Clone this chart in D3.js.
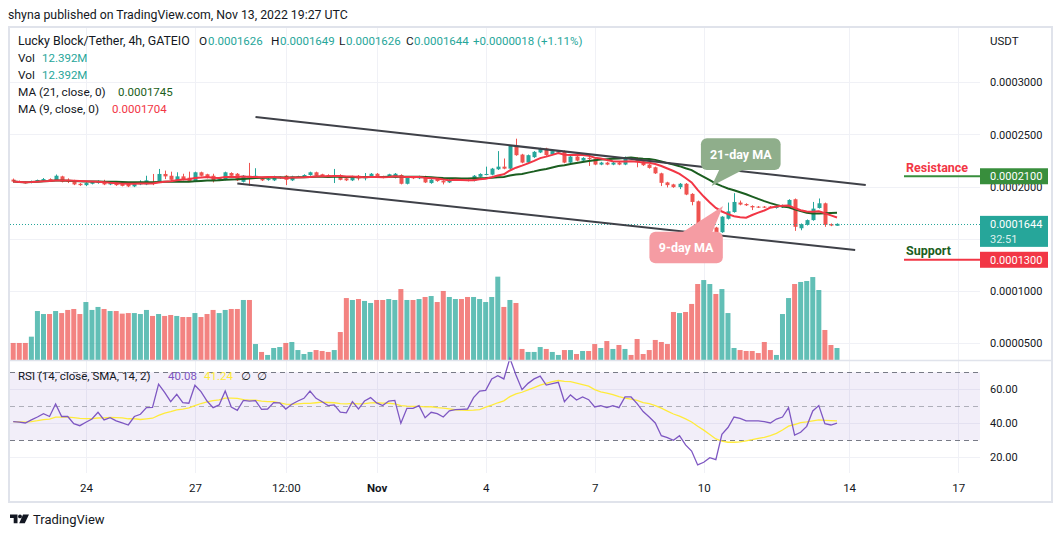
<!DOCTYPE html>
<html><head><meta charset="utf-8">
<script src="https://cdn.jsdelivr.net/npm/d3@7"></script>
<style>
html,body{margin:0;padding:0;background:#fff;}
svg{display:block;font-family:Roboto,"Noto Sans","DejaVu Sans",sans-serif;}
</style></head><body>
<svg id="c" width="1062" height="537"></svg>
<script>
// ---------- DATA ----------
const barStart = Date.UTC(2022, 9, 22, 0);   // first 4h bar (UTC)
const barHours = 4;
const open = [2068e-7,2049e-7,2041e-7,2038e-7,2052e-7,2059e-7,2073e-7,2061e-7,2099e-7,2066e-7,
2061e-7,2028e-7,2015e-7,2028e-7,2035e-7,2054e-7,2022e-7,2041e-7,2028e-7,2028e-7,
2003e-7,2022e-7,2022e-7,2041e-7,2041e-7,2122e-7,2105e-7,2061e-7,2099e-7,2086e-7,
2054e-7,2138e-7,2119e-7,2105e-7,2061e-7,2066e-7,2131e-7,2124e-7,2047e-7,2105e-7,
2090e-7,2080e-7,2064e-7,2061e-7,2083e-7,2105e-7,2061e-7,2093e-7,2093e-7,2112e-7,
2138e-7,2119e-7,2112e-7,2099e-7,2112e-7,2080e-7,2061e-7,2105e-7,2080e-7,2099e-7,
2124e-7,2099e-7,2093e-7,2086e-7,2112e-7,2028e-7,2093e-7,2080e-7,2099e-7,2035e-7,
2080e-7,2054e-7,2041e-7,2064e-7,2066e-7,2064e-7,2057e-7,2095e-7,2115e-7,2115e-7,
2167e-7,2192e-7,2173e-7,2386e-7,2308e-7,2231e-7,2283e-7,2328e-7,2366e-7,2308e-7,
2328e-7,2341e-7,2231e-7,2289e-7,2250e-7,2276e-7,2270e-7,2212e-7,2231e-7,2212e-7,
2231e-7,2212e-7,2276e-7,2276e-7,2244e-7,2212e-7,2186e-7,2128e-7,2041e-7,2022e-7,
1996e-7,2028e-7,1931e-7,1860e-7,1570e-7,1577e-7,1609e-7,1564e-7,1693e-7,1757e-7,
1848e-7,1834e-7,1815e-7,1809e-7,1809e-7,1809e-7,1796e-7,1802e-7,1809e-7,1880e-7,
1602e-7,1635e-7,1680e-7,1796e-7,1841e-7,1641e-7,1626e-7];
const high = [2078e-7,2059e-7,2049e-7,2059e-7,2068e-7,2083e-7,2080e-7,2117e-7,2105e-7,2080e-7,
2066e-7,2035e-7,2041e-7,2054e-7,2061e-7,2066e-7,2054e-7,2047e-7,2035e-7,2035e-7,
2035e-7,2061e-7,2105e-7,2122e-7,2170e-7,2154e-7,2144e-7,2138e-7,2124e-7,2144e-7,
2144e-7,2144e-7,2124e-7,2124e-7,2093e-7,2144e-7,2138e-7,2131e-7,2112e-7,2228e-7,
2177e-7,2086e-7,2080e-7,2105e-7,2099e-7,2112e-7,2105e-7,2105e-7,2119e-7,2144e-7,
2144e-7,2124e-7,2119e-7,2170e-7,2119e-7,2086e-7,2105e-7,2112e-7,2131e-7,2131e-7,
2131e-7,2105e-7,2124e-7,2131e-7,2119e-7,2093e-7,2099e-7,2105e-7,2105e-7,2073e-7,
2086e-7,2061e-7,2073e-7,2073e-7,2073e-7,2070e-7,2112e-7,2128e-7,2192e-7,2180e-7,
2341e-7,2270e-7,2399e-7,2460e-7,2315e-7,2308e-7,2341e-7,2373e-7,2373e-7,2347e-7,
2347e-7,2347e-7,2296e-7,2296e-7,2283e-7,2283e-7,2276e-7,2238e-7,2238e-7,2238e-7,
2238e-7,2289e-7,2283e-7,2283e-7,2250e-7,2218e-7,2192e-7,2134e-7,2047e-7,2028e-7,
2035e-7,2035e-7,1938e-7,1867e-7,1628e-7,1667e-7,1616e-7,1718e-7,1848e-7,1938e-7,
1867e-7,1841e-7,1822e-7,1815e-7,1815e-7,1815e-7,1822e-7,1829e-7,1880e-7,1887e-7,
1648e-7,1686e-7,1854e-7,1887e-7,1848e-7,1648e-7,1649e-7];
const low = [2039e-7,2035e-7,2030e-7,2032e-7,2044e-7,2054e-7,2054e-7,2054e-7,2041e-7,2035e-7,
2015e-7,2008e-7,2006e-7,2022e-7,2028e-7,2015e-7,2015e-7,2008e-7,2003e-7,1996e-7,
1996e-7,2015e-7,2015e-7,2015e-7,2035e-7,2073e-7,2047e-7,2054e-7,2061e-7,2047e-7,
2047e-7,2099e-7,2080e-7,2041e-7,2054e-7,2061e-7,2099e-7,2054e-7,2041e-7,2008e-7,
2083e-7,2054e-7,2057e-7,2054e-7,2076e-7,2015e-7,2054e-7,2086e-7,2086e-7,2105e-7,
2099e-7,2093e-7,2086e-7,2035e-7,2061e-7,2054e-7,2054e-7,2061e-7,2061e-7,2093e-7,
2093e-7,2080e-7,2086e-7,2080e-7,2022e-7,2022e-7,2073e-7,2073e-7,2035e-7,2028e-7,
2047e-7,2022e-7,2035e-7,2057e-7,2054e-7,2051e-7,2051e-7,2090e-7,2109e-7,2109e-7,
2160e-7,2167e-7,2167e-7,2296e-7,2225e-7,2225e-7,2276e-7,2322e-7,2296e-7,2302e-7,
2322e-7,2225e-7,2225e-7,2244e-7,2244e-7,2199e-7,2206e-7,2206e-7,2206e-7,2206e-7,
2206e-7,2206e-7,2264e-7,2186e-7,2199e-7,2173e-7,2122e-7,2006e-7,1993e-7,1989e-7,
1977e-7,1919e-7,1822e-7,1564e-7,1564e-7,1570e-7,1558e-7,1558e-7,1686e-7,1751e-7,
1822e-7,1815e-7,1776e-7,1796e-7,1796e-7,1800e-7,1790e-7,1796e-7,1802e-7,1577e-7,
1583e-7,1628e-7,1674e-7,1790e-7,1616e-7,1622e-7,1626e-7];
const close = [2049e-7,2041e-7,2036e-7,2052e-7,2064e-7,2073e-7,2064e-7,2105e-7,2047e-7,2047e-7,
2022e-7,2015e-7,2035e-7,2047e-7,2054e-7,2022e-7,2047e-7,2015e-7,2008e-7,2003e-7,
2028e-7,2047e-7,2061e-7,2036e-7,2122e-7,2099e-7,2066e-7,2099e-7,2066e-7,2054e-7,
2138e-7,2105e-7,2086e-7,2054e-7,2086e-7,2138e-7,2105e-7,2061e-7,2105e-7,2093e-7,
2105e-7,2061e-7,2073e-7,2099e-7,2093e-7,2066e-7,2099e-7,2099e-7,2112e-7,2138e-7,
2105e-7,2099e-7,2093e-7,2105e-7,2066e-7,2061e-7,2099e-7,2080e-7,2099e-7,2124e-7,
2099e-7,2086e-7,2119e-7,2124e-7,2028e-7,2086e-7,2080e-7,2099e-7,2041e-7,2066e-7,
2054e-7,2041e-7,2066e-7,2066e-7,2061e-7,2057e-7,2105e-7,2122e-7,2122e-7,2173e-7,
2192e-7,2173e-7,2392e-7,2302e-7,2231e-7,2302e-7,2334e-7,2366e-7,2302e-7,2341e-7,
2341e-7,2231e-7,2289e-7,2250e-7,2276e-7,2264e-7,2212e-7,2231e-7,2212e-7,2231e-7,
2212e-7,2283e-7,2270e-7,2238e-7,2206e-7,2180e-7,2128e-7,2037e-7,2015e-7,1996e-7,
2028e-7,1925e-7,1854e-7,1570e-7,1597e-7,1616e-7,1564e-7,1713e-7,1764e-7,1854e-7,
1829e-7,1822e-7,1802e-7,1802e-7,1802e-7,1804e-7,1815e-7,1822e-7,1873e-7,1616e-7,
1641e-7,1680e-7,1790e-7,1841e-7,1635e-7,1628e-7,1644e-7];
// volume in millions
const volume = [17.6,17.6,17.6,24.1,50.6,47.5,47.5,50.6,48.5,51.7,
52.7,47.5,59.9,51.7,54.8,52.7,50.6,50.6,47.9,48.5,
48.5,47.5,51.7,45.5,47.5,45.5,46.5,45.5,44.4,44.4,
48.5,44.4,47.5,51.7,48.5,51.7,52.7,52.7,62,62,
16.5,8.3,5.2,12.4,13.4,17.6,18.6,10.3,6.2,8.3,
10.3,9.3,8.3,10.3,28.9,64,62,63,61,58.9,
62,62,63,62,73.3,62,62,63,65.1,66.1,
59.9,71.3,65.1,63,63,65.1,65.1,63,59.9,65.1,
86.1,54.8,62,58.9,11.4,8.3,8.3,13.4,11.4,8.3,
5.2,10.3,10.3,6.2,9.3,9.3,16.5,12.4,19.6,11.4,
15.5,11.4,5.2,21.7,6.2,10.3,20.7,18.6,16.5,49.6,
48.5,49.6,57.9,78.5,82.6,78.5,68.2,73.3,48.5,12.4,
10.3,9.3,9.3,7.2,18.6,10.3,5.2,47.5,64,78.5,
80.6,81.6,85.7,72.3,31,15.5,12.392];
const rsi = [41,40.7,40.2,42,43.7,45.7,44,51.4,44,44,
39.8,38.6,40.6,42.5,46.5,42,43.3,41.4,40.2,39,
44,45.3,49.2,49.4,63,58.2,52.7,57,52.2,51.8,
62.4,58.6,53.1,49.2,50.8,59,49.6,47.6,53.5,53.1,
53.3,48.2,48.4,52.2,52,48.4,51.2,53.1,54.7,59,
54.7,52.7,50.4,50.8,46.5,46.1,52.7,48.4,53.1,55.1,
52,50.4,53.1,53.5,40,48.8,48.8,50.4,43.3,46.5,
45.7,43.7,47.3,48,48.2,48.4,55.1,59,59.4,66.1,
68,66.1,78.2,68.4,59.8,63.5,66.1,67.8,62.5,63.3,
64.1,52.7,56.7,53.7,55.5,53.9,49.6,50.4,49.2,50.4,
49.2,55.5,55.5,51.6,46.9,43.7,40.2,32.7,31.6,30,
32.7,27.3,23.7,15.5,17.1,19.8,18.6,33.5,37.5,43.7,
42.9,41.4,41.4,41.4,41,40.2,42.5,43.7,49.2,33.1,
34.7,38.2,47.3,50.4,39.8,39,40.08];

const priceGrid = [0.00005, 0.0001, 0.00015, 0.0002, 0.00025, 0.0003];
const priceLabels = [0.00005, 0.0001, 0.0002, 0.00025, 0.0003];   // 0.00015 is hidden behind the last-price box
const rsiTicks = [20, 40, 60];
const rsiLevels = [70, 50, 30];
const timeTicks = [Date.UTC(2022,9,24), Date.UTC(2022,9,27), Date.UTC(2022,9,29,12), Date.UTC(2022,10,1),
                   Date.UTC(2022,10,4), Date.UTC(2022,10,7), Date.UTC(2022,10,10), Date.UTC(2022,10,14), Date.UTC(2022,10,17)];
const timeTickLabels = ["24","27","12:00","Nov","4","7","10","14","17"];
const trendUpper = [[Date.UTC(2022,9,28,16), 0.0002668], [Date.UTC(2022,10,14,11), 0.0002016]];
const trendLower = [[Date.UTC(2022,9,28,4), 0.0002031], [Date.UTC(2022,10,14,4), 0.0001394]];
const levelPrices = [0.00021, 0.00013];
const levelNames = ["Resistance", "Support"];
const lastPrice = 0.0001644;
const countdown = "32:51";
const legendOHLC = ["0.0001626","0.0001649","0.0001626","0.0001644"];
const legendChange = "+0.0000018 (+1.11%)";
const legendVol = "12.392M";
const legendMA = ["0.0001745","0.0001704"];
const legendRSI = ["40.08","41.24"];
const callouts = [
  {text:"21-day MA", t:Date.UTC(2022,10,10,5,12), p:0.0002007},
  {text:"9-day MA",  t:Date.UTC(2022,10,10,12,48), p:0.0001815}
];

// ---------- SETUP ----------
const UP="#26a69a", DN="#ef5350", UPV="rgba(38,166,154,0.72)", DNV="rgba(239,83,80,0.72)";
const TXT="#131722", GRID="#f0f1f6";
const plotL=10, plotR=980, mainT=28, mainB=360, rsiB=473;
const svg = d3.select("#c");
const times = close.map((_, i) => new Date(barStart + i * barHours * 3600e3));
const x = d3.scaleUtc().domain([times[0], times[times.length-1]]).range([13.2, 837]);
const y = d3.scaleLinear().domain([0.00005, 0.0003]).range([343.3, 82.3]);
const yVol = d3.scaleLinear().domain([0, 100]).range([360, 263.2]);
const yR = d3.scaleLinear().domain([20, 60]).range([457.3, 389.3]);
const sma = (arr, n) => arr.map((_, i) => d3.mean(arr.slice(Math.max(0, i-n+1), i+1)));
const ma21 = sma(close, 21), ma9 = sma(close, 9), rsiSma = sma(rsi, 14);

svg.append("rect").attr("width",1062).attr("height",537).attr("fill","#fff");

// grid
const g = svg.append("g");
g.selectAll(".vg").data(timeTicks).join("line")
  .attr("x1", d=>Math.round(x(new Date(d)))+0.5).attr("x2", d=>Math.round(x(new Date(d)))+0.5)
  .attr("y1", mainT).attr("y2", rsiB).attr("stroke", GRID);
g.selectAll(".hg").data(priceGrid).join("line")
  .attr("x1", plotL).attr("x2", plotR).attr("y1", d=>Math.round(y(d))+0.5).attr("y2", d=>Math.round(y(d))+0.5)
  .attr("stroke", GRID);
g.selectAll(".rg").data(rsiTicks).join("line")
  .attr("x1", plotL).attr("x2", plotR).attr("y1", d=>Math.round(yR(d))+0.5).attr("y2", d=>Math.round(yR(d))+0.5)
  .attr("stroke", GRID);

// RSI band + levels
svg.append("rect").attr("x", plotL).attr("width", plotR-plotL)
  .attr("y", yR(70)).attr("height", yR(30)-yR(70)).attr("fill","rgba(126,87,194,0.1)");
svg.selectAll(".rl").data(rsiLevels).join("line")
  .attr("x1", plotL).attr("x2", plotR).attr("y1", d=>Math.round(yR(d))+0.5).attr("y2", d=>Math.round(yR(d))+0.5)
  .attr("stroke", d=> d===50 ? "rgba(120,123,134,0.55)" : "#787b86").attr("stroke-dasharray","5,4");

// volume
svg.append("g").selectAll("rect").data(volume).join("rect")
  .attr("x", (d,i)=> x(times[i]) - 2.5).attr("width", 5)
  .attr("y", d=>yVol(d)).attr("height", d=>yVol(0)-yVol(d))
  .attr("fill", (d,i)=> close[i] >= open[i] ? UPV : DNV);

// candles
const cg = svg.append("g");
cg.selectAll("line").data(close).join("line")
  .attr("x1", (d,i)=>Math.round(x(times[i]))+0.5).attr("x2", (d,i)=>Math.round(x(times[i]))+0.5)
  .attr("y1", (d,i)=>y(high[i])).attr("y2", (d,i)=>y(low[i]))
  .attr("stroke", (d,i)=> close[i]>=open[i]?UP:DN);
cg.selectAll("rect").data(close).join("rect")
  .attr("x", (d,i)=>Math.round(x(times[i]))-1.5).attr("width", 4)
  .attr("y", (d,i)=>y(Math.max(open[i],close[i])))
  .attr("height", (d,i)=>Math.max(1, Math.abs(y(open[i])-y(close[i]))))
  .attr("fill", (d,i)=> close[i]>=open[i]?UP:DN);

// MAs
const line = d3.line().x((d,i)=>x(times[i])).y(d=>y(d));
svg.append("path").attr("d", line(ma21)).attr("fill","none").attr("stroke","#1b5e20").attr("stroke-width",2);
svg.append("path").attr("d", line(ma9)).attr("fill","none").attr("stroke","#f23645").attr("stroke-width",2);

// last price dotted line
svg.append("line").attr("x1", plotL).attr("x2", plotR)
  .attr("y1", Math.round(y(lastPrice))+0.5).attr("y2", Math.round(y(lastPrice))+0.5)
  .attr("stroke", UP).attr("stroke-dasharray","1,2");

// trend lines
[trendUpper, trendLower].forEach(tl => {
  svg.append("line").attr("x1", x(new Date(tl[0][0]))).attr("y1", y(tl[0][1]))
    .attr("x2", x(new Date(tl[1][0]))).attr("y2", y(tl[1][1]))
    .attr("stroke","#3f4148").attr("stroke-width",2);
});

// callouts
function callout(c, fill, box, tri) {
  const tx = x(new Date(c.t)), ty = y(c.p);
  const grp = svg.append("g").attr("transform", `translate(${tx},${ty})`);
  grp.append("path").attr("d", `M${tri[0][0]},${tri[0][1]}L${tri[1][0]},${tri[1][1]}L0,0Z`).attr("fill", fill);
  grp.append("rect").attr("x", box[0]).attr("y", box[1]).attr("width", box[2]).attr("height", box[3])
    .attr("rx", 6).attr("fill", fill);
  grp.append("text").attr("x", box[0]+box[2]/2).attr("y", box[1]+box[3]/2).attr("dy","0.35em")
    .attr("text-anchor","middle").attr("fill","#fff").attr("font-weight","bold").attr("font-size",12.5)
    .text(c.text);
}
callout(callouts[0], "#8fae8b", [-10.7,-47.7,79.7,31.7], [[8,-17],[33,-17]]);
callout(callouts[1], "#f59ca3", [-73.7,25.7,73.4,31.6], [[-41,26.5],[-11,26.5]]);

// RSI lines
const rline = d3.line().x((d,i)=>x(times[i])).y(d=>yR(d));
svg.append("path").attr("d", rline(rsiSma)).attr("fill","none").attr("stroke","#ffeb3b").attr("stroke-width",1.3);
svg.append("path").attr("d", rline(rsi)).attr("fill","none").attr("stroke","#7e57c2").attr("stroke-width",1.3);

// support / resistance
const lvlColors = ["#388e3c", "#f23645"], lvlText = ["#f23645", "#1b5e20"];
levelPrices.forEach((p, i) => {
  svg.append("line").attr("x1", 904).attr("x2", plotR).attr("y1", y(p)).attr("y2", y(p))
    .attr("stroke", lvlColors[i]).attr("stroke-width", 2);
  svg.append("text").attr("x", 906).attr("y", y(p) - 9).attr("dy","0.35em")
    .attr("fill", lvlText[i]).attr("font-weight","bold").attr("font-size",12.5).text(levelNames[i]);
});

// price axis
const pa = svg.append("g").attr("transform","translate(990,0)")
  .call(d3.axisRight(y).tickValues(priceLabels).tickFormat(d=>d.toFixed(7)).tickSize(0).tickPadding(0));
pa.select(".domain").remove();
pa.selectAll("text").attr("fill", TXT).attr("font-size", 11).attr("font-family","Roboto");
const ra = svg.append("g").attr("transform","translate(990,0)")
  .call(d3.axisRight(yR).tickValues(rsiTicks).tickFormat(d=>d.toFixed(2)).tickSize(0).tickPadding(0));
ra.select(".domain").remove();
ra.selectAll("text").attr("fill", TXT).attr("font-size", 11).attr("font-family","Roboto");

// axis boxes
levelPrices.forEach((p, i) => {
  svg.append("rect").attr("x",980).attr("y", y(p)-8).attr("width",68).attr("height",16).attr("fill", lvlColors[i]);
  svg.append("text").attr("x",990).attr("y", y(p)).attr("dy","0.35em").attr("fill","#fff").attr("font-size",11).text(p.toFixed(7));
});
svg.append("rect").attr("x",980).attr("y", y(lastPrice)-8).attr("width",68).attr("height",31).attr("fill", UP);
svg.append("text").attr("x",990).attr("y", y(lastPrice)).attr("dy","0.35em").attr("fill","#fff").attr("font-size",11).text(lastPrice.toFixed(7));
svg.append("text").attr("x",990).attr("y", y(lastPrice)+15).attr("dy","0.35em").attr("fill","rgba(255,255,255,0.85)").attr("font-size",11).text(countdown);

// time axis
const ta = svg.append("g").attr("transform","translate(0,484)")
  .call(d3.axisBottom(x).tickValues(timeTicks.map(d=>new Date(d))).tickFormat((d,i)=>timeTickLabels[i]).tickSize(0).tickPadding(0));
ta.select(".domain").remove();
ta.selectAll("text").attr("fill", TXT).attr("font-size", 11.5).attr("font-family","Roboto")
  .attr("font-weight", (d,i)=> timeTickLabels[i]==="Nov" ? "bold" : "normal");

// frame & separators
svg.append("rect").attr("x",9).attr("y",27).attr("width",1043).attr("height",475)
  .attr("fill","none").attr("stroke","#e0e3eb").attr("stroke-width",2);
svg.append("line").attr("x1",9).attr("x2",1052).attr("y1",360.5).attr("y2",360.5).attr("stroke","#e0e3eb").attr("stroke-width",1.5);

// texts
function txt(xp, yp, s, fill, size, weight) {
  return svg.append("text").attr("x", xp).attr("y", yp).attr("dy","0.35em").attr("fill", fill)
    .attr("font-size", size||11).attr("font-weight", weight||"normal").text(s);
}
txt(8, 15, "shyna published on TradingView.com, Nov 13, 2022 19:27 UTC", TXT, 12.3);
txt(18, 41, "Lucky Block/Tether, 4h, GATEIO", TXT, 12.4);
const ohlcL = ["O","H","L","C"], ohlcX = [199, 271, 339, 406], ohlcVX = [208, 280, 346, 414];
ohlcL.forEach((l,i)=>{ txt(ohlcX[i], 41, l, TXT, 11.8); txt(ohlcVX[i], 41, legendOHLC[i], UP, 11.5); });
txt(473, 41, legendChange, UP, 11.5);
txt(18, 58, "Vol", TXT, 11.8); txt(42, 58, legendVol, UP, 11.5);
txt(18, 75, "Vol", TXT, 11.8); txt(42, 75, legendVol, UP, 11.5);
txt(18, 92, "MA (21, close, 0)", TXT, 11.8); txt(118, 92, legendMA[0], "#1b5e20", 11.5);
txt(18, 109, "MA (9, close, 0)", TXT, 11.8); txt(112, 109, legendMA[1], "#f23645", 11.5);
txt(990, 41, "USDT", TXT, 11.5);
txt(18, 376, "RSI (14, close, SMA, 14, 2)", TXT, 11.5);
txt(168, 376, legendRSI[0], "#7e57c2", 11.5);
txt(204, 376, legendRSI[1], "#ffeb3b", 11.5);
txt(241, 376, "∅", TXT, 11.5); txt(257, 376, "∅", TXT, 11.5);

// logo
svg.append("path").attr("d","M10,514.5h7.5v8.8h-3.8v-5.3h-3.7z").attr("fill",TXT);
svg.append("circle").attr("cx",20).attr("cy",516.4).attr("r",1.9).attr("fill",TXT);
svg.append("path").attr("d","M23,514.5h6l-4.2,8.8h-5.6z").attr("fill",TXT);
txt(33, 519.5, "TradingView", TXT, 13);
</script>
</body></html>
